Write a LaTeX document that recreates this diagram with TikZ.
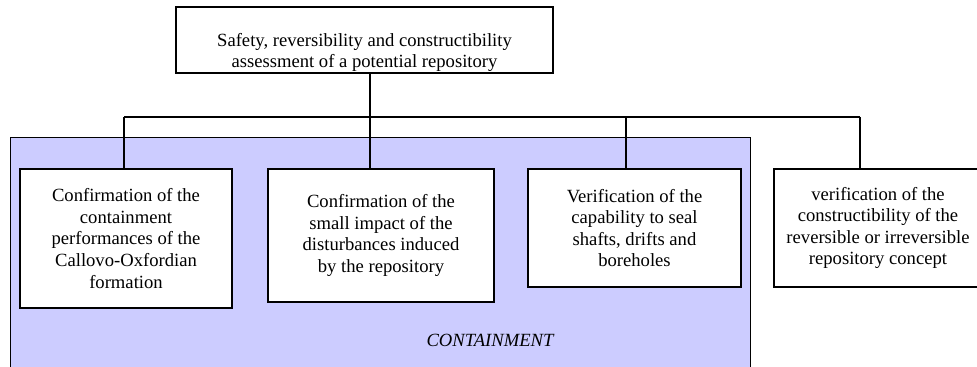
\documentclass[tikz,border=0pt]{standalone}
\usepackage{fontspec}
\setmainfont{Liberation Serif}
\usetikzlibrary{positioning}
\definecolor{containblue}{RGB}{204,204,255}

\begin{document}
\begin{tikzpicture}[
    box/.style={rectangle, draw, line width=1.1pt, fill=white, align=center, inner sep=0pt, font=\fontsize{10.6}{12.3}\selectfont},
    area/.style={rectangle, draw, line width=0.5pt, fill=containblue, inner sep=0pt, anchor=north west},
    link/.style={line width=0.9pt}
]
    \path[use as bounding box, clip] (0,0) rectangle (19.54,-7.34);

    % Containment area
    \node[area, minimum width=14.8cm, minimum height=4.9cm] (contain) at (0.2,-2.74) {};
    \node[font=\fontsize{10.6}{12.3}\selectfont\itshape] (containlabel) at (9.8,-6.8) {CONTAINMENT};

    % Top
    \node[box, minimum width=7.54cm, minimum height=1.32cm, text height=34pt] (top) at (7.29,-0.80)
        {Safety, reversibility and constructibility\\assessment of a potential repository};

    % Sub-goals
    \node[box, minimum width=4.24cm, minimum height=2.78cm] (conf) at (2.52,-4.77)
        {Confirmation of the\\containment\\performances of the\\Callovo-Oxfordian\\formation};
    \node[box, minimum width=4.52cm, minimum height=2.66cm] (impact) at (7.62,-4.71)
        {Confirmation of the\\small impact of the\\disturbances induced\\by the repository};
    \node[box, minimum width=4.26cm, minimum height=2.36cm] (seal) at (12.69,-4.56)
        {Verification of the\\capability to seal\\shafts, drifts and\\boreholes};
    \node[box, minimum width=4.16cm, minimum height=2.36cm] (build) at (17.56,-4.56)
        {verification of the\\constructibility of the\\reversible or irreversible\\repository concept};

    % Bus
    \coordinate (d1) at (2.48,-2.34);
    \coordinate (d2) at (7.40,-2.34);
    \coordinate (d3) at (12.52,-2.34);
    \coordinate (d4) at (17.20,-2.34);

    % Lines
    \draw[link] (d1) -- (d4);
    \draw[link] (top.south -| d2) -- (d2 |- impact.north);
    \foreach \d/\b in {d1/conf, d3/seal, d4/build}
        \draw[link] (\d) -- (\d |- \b.north);
\end{tikzpicture}
\end{document}
